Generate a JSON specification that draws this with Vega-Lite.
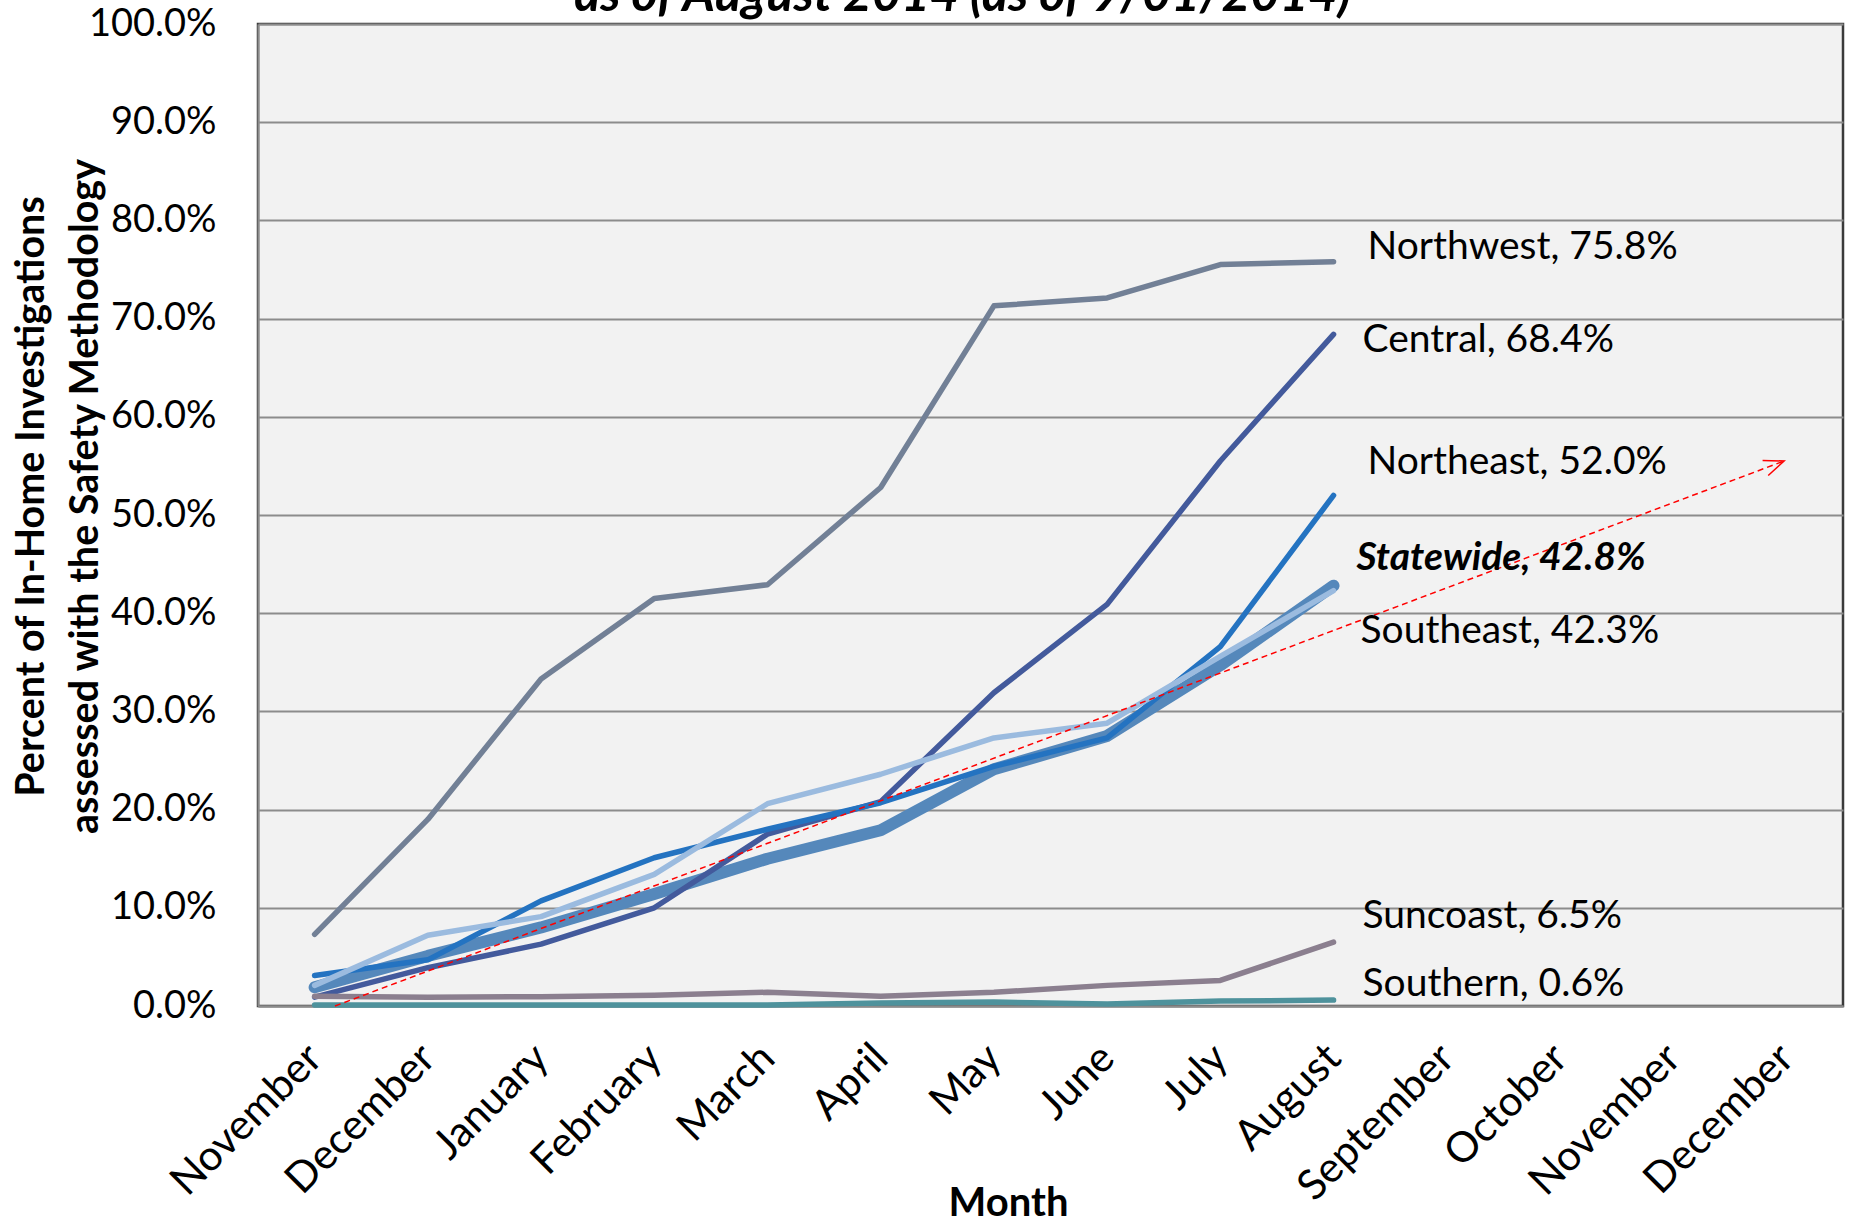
{
  "$schema": "https://vega.github.io/schema/vega-lite/v6.json",
  "width": 1585,
  "height": 982,
  "autosize": {"type": "none"},
  "padding": {"left": 258, "top": 24, "right": 10, "bottom": 219},
  "background": "white",
  "config": {
    "font": "Lato",
    "view": {"fill": "#f2f2f2", "stroke": "#3a3a3a", "strokeWidth": 2.5}
  },
  "title": {
    "text": "as of August 2014 (as of 9/01/2014)",
    "font": "Lato",
    "fontSize": 50,
    "fontWeight": "bold",
    "fontStyle": "italic",
    "color": "black",
    "anchor": "middle",
    "dx": -88,
    "offset": -16
  },
  "datasets": {
    "series": [
      {"region": "Northwest", "month": "November", "m": 0, "pct": 7.3},
      {"region": "Northwest", "month": "December", "m": 1, "pct": 19.0},
      {"region": "Northwest", "month": "January", "m": 2, "pct": 33.3},
      {"region": "Northwest", "month": "February", "m": 3, "pct": 41.5},
      {"region": "Northwest", "month": "March", "m": 4, "pct": 42.9},
      {"region": "Northwest", "month": "April", "m": 5, "pct": 52.8},
      {"region": "Northwest", "month": "May", "m": 6, "pct": 71.3},
      {"region": "Northwest", "month": "June", "m": 7, "pct": 72.1},
      {"region": "Northwest", "month": "July", "m": 8, "pct": 75.5},
      {"region": "Northwest", "month": "August", "m": 9, "pct": 75.8},
      {"region": "Central", "month": "November", "m": 0, "pct": 0.9},
      {"region": "Central", "month": "December", "m": 1, "pct": 3.9},
      {"region": "Central", "month": "January", "m": 2, "pct": 6.3},
      {"region": "Central", "month": "February", "m": 3, "pct": 10.0},
      {"region": "Central", "month": "March", "m": 4, "pct": 17.5},
      {"region": "Central", "month": "April", "m": 5, "pct": 20.8},
      {"region": "Central", "month": "May", "m": 6, "pct": 31.9},
      {"region": "Central", "month": "June", "m": 7, "pct": 40.9},
      {"region": "Central", "month": "July", "m": 8, "pct": 55.5},
      {"region": "Central", "month": "August", "m": 9, "pct": 68.4},
      {"region": "Northeast", "month": "November", "m": 0, "pct": 3.1},
      {"region": "Northeast", "month": "December", "m": 1, "pct": 4.7},
      {"region": "Northeast", "month": "January", "m": 2, "pct": 10.7},
      {"region": "Northeast", "month": "February", "m": 3, "pct": 15.1},
      {"region": "Northeast", "month": "March", "m": 4, "pct": 18.0},
      {"region": "Northeast", "month": "April", "m": 5, "pct": 20.7},
      {"region": "Northeast", "month": "May", "m": 6, "pct": 24.4},
      {"region": "Northeast", "month": "June", "m": 7, "pct": 27.3},
      {"region": "Northeast", "month": "July", "m": 8, "pct": 36.6},
      {"region": "Northeast", "month": "August", "m": 9, "pct": 52.0},
      {"region": "Statewide", "month": "November", "m": 0, "pct": 1.9},
      {"region": "Statewide", "month": "December", "m": 1, "pct": 5.1},
      {"region": "Statewide", "month": "January", "m": 2, "pct": 8.0},
      {"region": "Statewide", "month": "February", "m": 3, "pct": 11.4},
      {"region": "Statewide", "month": "March", "m": 4, "pct": 15.0},
      {"region": "Statewide", "month": "April", "m": 5, "pct": 17.9},
      {"region": "Statewide", "month": "May", "m": 6, "pct": 24.1},
      {"region": "Statewide", "month": "June", "m": 7, "pct": 27.5},
      {"region": "Statewide", "month": "July", "m": 8, "pct": 34.7},
      {"region": "Statewide", "month": "August", "m": 9, "pct": 42.8},
      {"region": "Southeast", "month": "November", "m": 0, "pct": 2.1},
      {"region": "Southeast", "month": "December", "m": 1, "pct": 7.2},
      {"region": "Southeast", "month": "January", "m": 2, "pct": 9.1},
      {"region": "Southeast", "month": "February", "m": 3, "pct": 13.4},
      {"region": "Southeast", "month": "March", "m": 4, "pct": 20.6},
      {"region": "Southeast", "month": "April", "m": 5, "pct": 23.6},
      {"region": "Southeast", "month": "May", "m": 6, "pct": 27.3},
      {"region": "Southeast", "month": "June", "m": 7, "pct": 28.8},
      {"region": "Southeast", "month": "July", "m": 8, "pct": 35.6},
      {"region": "Southeast", "month": "August", "m": 9, "pct": 42.3},
      {"region": "Suncoast", "month": "November", "m": 0, "pct": 1.0},
      {"region": "Suncoast", "month": "December", "m": 1, "pct": 0.9},
      {"region": "Suncoast", "month": "January", "m": 2, "pct": 0.95},
      {"region": "Suncoast", "month": "February", "m": 3, "pct": 1.1},
      {"region": "Suncoast", "month": "March", "m": 4, "pct": 1.4},
      {"region": "Suncoast", "month": "April", "m": 5, "pct": 1.0},
      {"region": "Suncoast", "month": "May", "m": 6, "pct": 1.4},
      {"region": "Suncoast", "month": "June", "m": 7, "pct": 2.1},
      {"region": "Suncoast", "month": "July", "m": 8, "pct": 2.6},
      {"region": "Suncoast", "month": "August", "m": 9, "pct": 6.5},
      {"region": "Southern", "month": "November", "m": 0, "pct": 0.1},
      {"region": "Southern", "month": "December", "m": 1, "pct": 0.1},
      {"region": "Southern", "month": "January", "m": 2, "pct": 0.1},
      {"region": "Southern", "month": "February", "m": 3, "pct": 0.1},
      {"region": "Southern", "month": "March", "m": 4, "pct": 0.1},
      {"region": "Southern", "month": "April", "m": 5, "pct": 0.3},
      {"region": "Southern", "month": "May", "m": 6, "pct": 0.4},
      {"region": "Southern", "month": "June", "m": 7, "pct": 0.2},
      {"region": "Southern", "month": "July", "m": 8, "pct": 0.5},
      {"region": "Southern", "month": "August", "m": 9, "pct": 0.6}
    ],
    "trend": [
      {"m": 0.18, "pct": 0.0},
      {"m": 12.98, "pct": 55.5}
    ],
    "labels": [
      {"region": "Northwest", "label": "Northwest, 75.8%", "m": 9, "pct": 75.8},
      {"region": "Central", "label": "Central, 68.4%", "m": 9, "pct": 68.4},
      {"region": "Northeast", "label": "Northeast, 52.0%", "m": 9, "pct": 52.0},
      {"region": "Statewide", "label": "Statewide, 42.8%", "m": 9, "pct": 42.8},
      {"region": "Southeast", "label": "Southeast, 42.3%", "m": 9, "pct": 42.3},
      {"region": "Suncoast", "label": "Suncoast, 6.5%", "m": 9, "pct": 6.5},
      {"region": "Southern", "label": "Southern, 0.6%", "m": 9, "pct": 0.6}
    ]
  },
  "encoding": {
    "x": {
      "field": "m",
      "type": "quantitative",
      "scale": {"domain": [-0.5, 13.5], "nice": false, "zero": false},
      "axis": {
        "values": [0, 1, 2, 3, 4, 5, 6, 7, 8, 9, 10, 11, 12, 13],
        "labelExpr": "['November','December','January','February','March','April','May','June','July','August','September','October','November','December'][datum.value]",
        "labelAngle": -45,
        "labelAlign": "right",
        "labelBaseline": "middle",
        "labelFontSize": 42,
        "labelFont": "Lato",
        "labelColor": "black",
        "labelPadding": 45,
        "labelLimit": 0,
        "labelFlush": false,
        "labelOverlap": false,
        "labelBound": false,
        "grid": false,
        "ticks": false,
        "tickSize": 0,
        "domain": true,
        "domainColor": "#8c8c8c",
        "domainWidth": 2,
        "title": "Month",
        "titleFont": "Lato",
        "titleFontSize": 40,
        "titleFontWeight": "bold",
        "titleColor": "black",
        "titleAnchor": "start",
        "titleAlign": "center",
        "titleBaseline": "alphabetic",
        "titleX": 750,
        "titleY": 209
      }
    },
    "y": {
      "field": "pct",
      "type": "quantitative",
      "scale": {"domain": [0, 100], "nice": false},
      "axis": {
        "values": [0, 10, 20, 30, 40, 50, 60, 70, 80, 90, 100],
        "labelExpr": "format(datum.value, '.1f') + '%'",
        "labelFontSize": 38,
        "labelFont": "Lato",
        "labelColor": "black",
        "labelPadding": 42,
        "labelFlush": false,
        "labelOverlap": false,
        "labelBound": false,
        "ticks": false,
        "tickSize": 0,
        "grid": true,
        "gridColor": "#8c8c8c",
        "gridWidth": 2,
        "domain": true,
        "domainColor": "#8c8c8c",
        "domainWidth": 2,
        "title": ["Percent of In-Home Investigations", "assessed with the Safety Methodology"],
        "titleFont": "Lato",
        "titleFontSize": 39.5,
        "titleFontWeight": "bold",
        "titleColor": "black",
        "titleLineHeight": 54,
        "titleAngle": -90,
        "titleAlign": "center",
        "titleBaseline": "middle",
        "titleX": -227,
        "titleY": 472
      }
    }
  },
  "layer": [
    {
      "data": {"name": "series"},
      "transform": [{"filter": "datum.region === 'Statewide'"}],
      "mark": {"type": "line", "strokeWidth": 12, "strokeCap": "round", "strokeJoin": "round", "color": "#5588bb"},
      "encoding": {"detail": {"field": "region"}}
    },
    {
      "data": {"name": "series"},
      "transform": [{"filter": "datum.region !== 'Statewide'"}],
      "mark": {"type": "line", "strokeWidth": 5.5, "strokeCap": "round", "strokeJoin": "round"},
      "encoding": {
        "color": {
          "field": "region",
          "type": "nominal",
          "scale": {
            "domain": ["Northwest", "Central", "Northeast", "Southeast", "Suncoast", "Southern"],
            "range": ["#728096", "#435a9c", "#2473c1", "#9bbbdf", "#8b7f8f", "#4e929c"]
          },
          "legend": null
        },
        "order": {"field": "m"}
      }
    },
    {
      "data": {"name": "trend"},
      "mark": {"type": "line", "color": "#ff0000", "strokeWidth": 1.5, "strokeDash": [6, 4]},
      "encoding": {}
    },
    {
      "data": {"name": "trend"},
      "transform": [{"filter": "datum.m > 10"}],
      "mark": {"type": "point", "shape": "M -2 -0.8 L 0 0 L -2 0.8", "filled": false, "stroke": "#ff0000", "strokeWidth": 1.5, "size": 400, "angle": 339.4, "opacity": 1},
      "encoding": {}
    },
    {
      "data": {"name": "labels"},
      "transform": [{"filter": "datum.region === 'Northwest'"}],
      "mark": {"type": "text", "align": "left", "baseline": "middle", "fontSize": 39, "font": "Lato", "color": "black", "dx": 34, "dy": -15},
      "encoding": {"text": {"field": "label"}}
    },
    {
      "data": {"name": "labels"},
      "transform": [{"filter": "datum.region === 'Central'"}],
      "mark": {"type": "text", "align": "left", "baseline": "middle", "fontSize": 39, "font": "Lato", "color": "black", "dx": 29, "dy": 6},
      "encoding": {"text": {"field": "label"}}
    },
    {
      "data": {"name": "labels"},
      "transform": [{"filter": "datum.region === 'Northeast'"}],
      "mark": {"type": "text", "align": "left", "baseline": "middle", "fontSize": 39, "font": "Lato", "color": "black", "dx": 34, "dy": -33},
      "encoding": {"text": {"field": "label"}}
    },
    {
      "data": {"name": "labels"},
      "transform": [{"filter": "datum.region === 'Statewide'"}],
      "mark": {"type": "text", "align": "left", "baseline": "middle", "fontSize": 39, "font": "Lato", "fontWeight": "bold", "fontStyle": "italic", "color": "black", "dx": 23, "dy": -28},
      "encoding": {"text": {"field": "label"}}
    },
    {
      "data": {"name": "labels"},
      "transform": [{"filter": "datum.region === 'Southeast'"}],
      "mark": {"type": "text", "align": "left", "baseline": "middle", "fontSize": 39, "font": "Lato", "color": "black", "dx": 27, "dy": 40},
      "encoding": {"text": {"field": "label"}}
    },
    {
      "data": {"name": "labels"},
      "transform": [{"filter": "datum.region === 'Suncoast'"}],
      "mark": {"type": "text", "align": "left", "baseline": "middle", "fontSize": 39, "font": "Lato", "color": "black", "dx": 29, "dy": -26},
      "encoding": {"text": {"field": "label"}}
    },
    {
      "data": {"name": "labels"},
      "transform": [{"filter": "datum.region === 'Southern'"}],
      "mark": {"type": "text", "align": "left", "baseline": "middle", "fontSize": 39, "font": "Lato", "color": "black", "dx": 29, "dy": -16},
      "encoding": {"text": {"field": "label"}}
    }
  ]
}
